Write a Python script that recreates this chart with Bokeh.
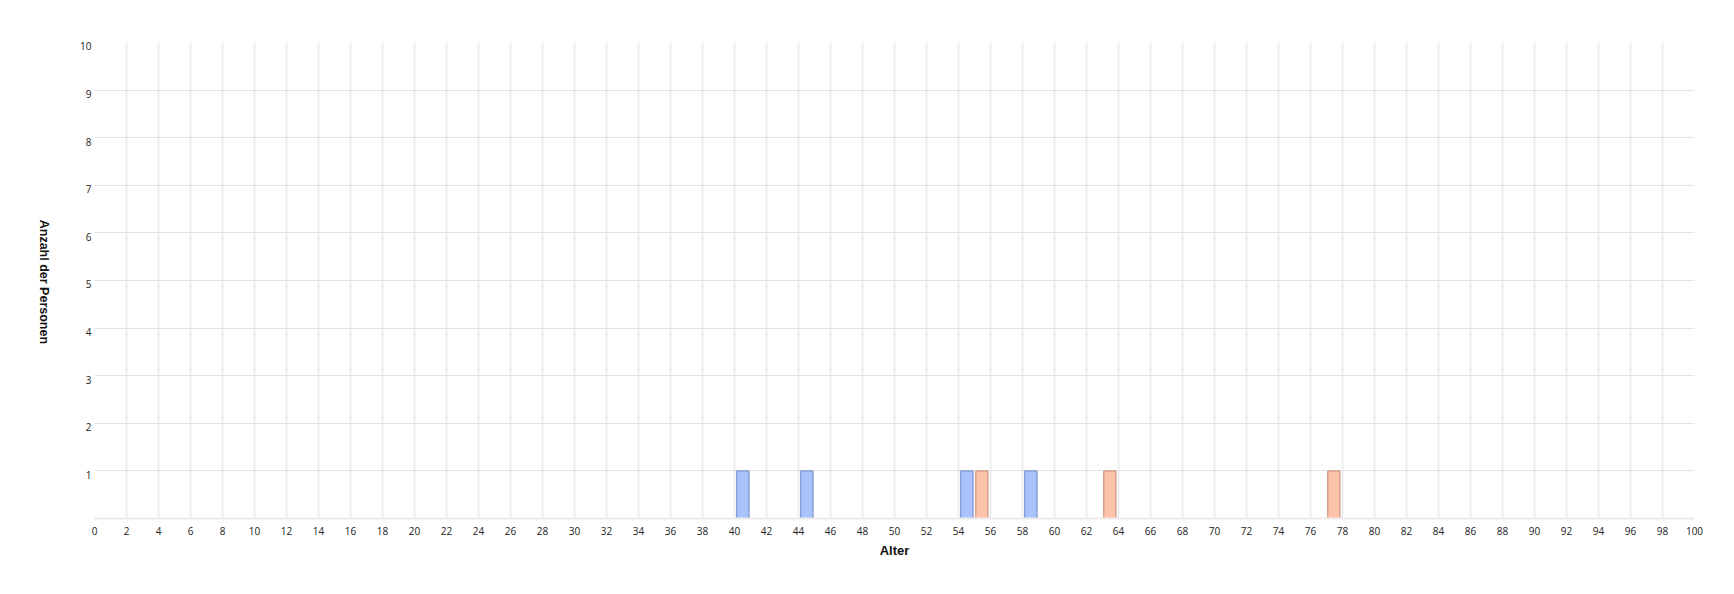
import math
from bokeh.plotting import figure
from bokeh.models import Range1d, FixedTicker, ColumnDataSource, LinearAxis
from bokeh.embed import file_html
from bokeh.resources import INLINE

# ---- data ----
male_ages = [40, 44, 54, 58]
male_counts = [1, 1, 1, 1]
female_ages = [55, 63, 77]
female_counts = [1, 1, 1]
x_ticks = list(range(0, 101, 2))
y_grid_ticks = list(range(0, 11))
y_tick_values = [1, 2, 3, 4, 5, 6, 7, 8, 9, 10]
y_tick_labels = ["1", "2", "3", "4", "5", "6", "7", "8", "9", "10"]
x_title = "Alter"
y_title = "Anzahl der Personen"

# bar placement inside each 1-year bin (style)
male_off = (0.14, 0.91)
female_off = (0.08, 0.84)

p = figure(width=1718, height=578, output_backend="svg", toolbar_location=None,
           x_range=Range1d(0, 100), y_range=Range1d(0, 10),
           min_border_left=94, min_border_right=24, min_border_top=42, min_border_bottom=60)
p.outline_line_color = None
p.background_fill_color = "white"

# grids
p.xaxis.ticker = FixedTicker(ticks=x_ticks)
p.yaxis.ticker = FixedTicker(ticks=y_grid_ticks)
p.xgrid.grid_line_color = "#ededed"
p.xgrid.grid_line_width = 2
p.ygrid.grid_line_color = "#e4e4e4"
p.ygrid.grid_line_width = 1

# x axis
ax = p.xaxis[0]
ax.axis_line_color = "#ebebeb"
ax.axis_line_width = 2
ax.major_tick_line_color = None
ax.minor_tick_line_color = None
ax.major_tick_out = 0
ax.major_tick_in = 0
ax.major_label_standoff = 8
ax.major_label_text_font = "Open Sans"
ax.major_label_text_font_size = "10px"
ax.major_label_text_color = "#222222"
ax.axis_label = x_title
ax.axis_label_standoff = 5
ax.axis_label_text_font = "Liberation Sans"
ax.axis_label_text_font_style = "bold"
ax.axis_label_text_font_size = "13px"
ax.axis_label_text_color = "#111111"

p.yaxis.visible = False

# y tick labels: shifted range so labels hang just below their grid line
p.extra_y_ranges = {"shift": Range1d(0.08, 10.08), "title": Range1d(1.335, 11.335)}
ylab = LinearAxis(y_range_name="shift", ticker=FixedTicker(ticks=y_tick_values),
                  major_label_overrides={v: t for v, t in zip(y_tick_values, y_tick_labels)})
ylab.axis_line_color = None
ylab.major_tick_line_color = None
ylab.minor_tick_line_color = None
ylab.major_tick_out = 0
ylab.major_tick_in = 0
ylab.major_label_standoff = 3
ylab.major_label_text_font = "Open Sans"
ylab.major_label_text_font_size = "10px"
ylab.major_label_text_color = "#222222"
p.add_layout(ylab, "left")

# y title drawn as a rotated (top-to-bottom) label of an outer axis
ytitle = LinearAxis(y_range_name="title", ticker=FixedTicker(ticks=[5]),
                    major_label_overrides={5: y_title},
                    major_label_orientation=-math.pi / 2)
ytitle.axis_line_color = None
ytitle.major_tick_line_color = None
ytitle.minor_tick_line_color = None
ytitle.major_tick_out = 0
ytitle.major_tick_in = 0
ytitle.major_label_standoff = 34
ytitle.major_label_text_font = "Liberation Sans"
ytitle.major_label_text_font_style = "bold"
ytitle.major_label_text_font_size = "12.5px"
ytitle.major_label_text_color = "#111111"
p.add_layout(ytitle, "left")

# bars
msrc = ColumnDataSource(dict(
    left=[a + male_off[0] for a in male_ages],
    right=[a + male_off[1] for a in male_ages],
    top=male_counts, bottom=[0] * len(male_ages)))
fsrc = ColumnDataSource(dict(
    left=[a + female_off[0] for a in female_ages],
    right=[a + female_off[1] for a in female_ages],
    top=female_counts, bottom=[0] * len(female_ages)))
p.quad(left="left", right="right", top="top", bottom="bottom", source=msrc,
       fill_color="#aac3fc", line_color="#6e86c6", line_width=1)
p.quad(left="left", right="right", top="top", bottom="bottom", source=fsrc,
       fill_color="#fdc3a9", line_color="#c48570", line_width=1)

open("out.html", "w").write(file_html(p, INLINE))
